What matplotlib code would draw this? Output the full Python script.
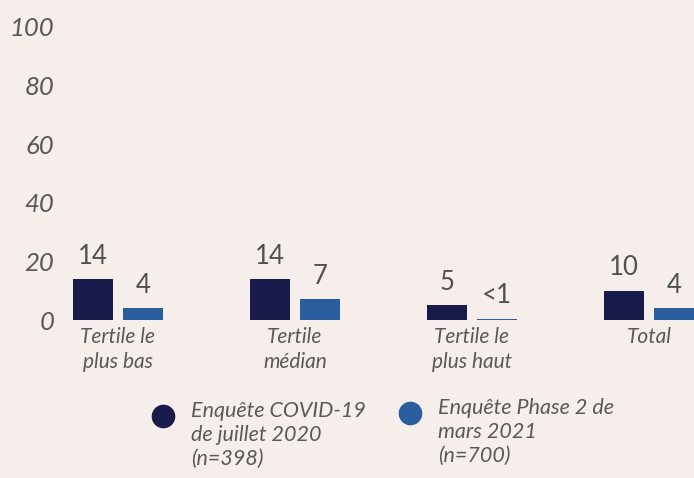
import matplotlib
matplotlib.use("Agg")
from matplotlib import pyplot as plt
from matplotlib.lines import Line2D
import numpy as np

# données
categories = ["Tertile le\nplus bas", "Tertile\nmédian", "Tertile le\nplus haut", "Total"]
covid_2020 = [14, 14, 5, 10]
phase2_2021 = [4, 7, 0.4, 4]
labels_2020 = ["14", "14", "5", "10"]
labels_2021 = ["4", "7", "<1", "4"]
series_names = ["Enquête COVID-19\nde juillet 2020\n(n=398)",
                "Enquête Phase 2 de\nmars 2021\n(n=700)"]
y_ticks = [0, 20, 40, 60, 80, 100]

BG = "#f5eeeb"
DARK = "#191c4b"
BLUE = "#2a5e9e"
GREY = "#595959"

plt.rcParams["font.family"] = ["Lato", "DejaVu Sans"]

W, H = 694, 478
fig = plt.figure(figsize=(W / 100, H / 100), dpi=100, facecolor=BG)


def fx(px):
    return px / W


def fy(py):
    return 1 - py / H


ax = fig.add_axes([fx(60), fy(320), fx(634), 293 / H])
ax.set_facecolor(BG)

x = np.arange(len(categories))
width = 0.226
off = 0.141

b1 = ax.bar(x - off, covid_2020, width, color=DARK, clip_on=False)
b2 = ax.bar(x + off, phase2_2021, width, color=BLUE, clip_on=False)

for bars, labs in ((b1, labels_2020), (b2, labels_2021)):
    for r, lab in zip(bars, labs):
        ax.annotate(lab, (r.get_x() + r.get_width() / 2, r.get_height()),
                    xytext=(0, 7.5), textcoords="offset points",
                    ha="center", va="bottom", fontsize=18.5, color="#505050",
                    annotation_clip=False)

ax.set_xlim((60 - 118) / 177, (694 - 118) / 177)
ax.set_ylim(0, 100)
ax.set_yticks(y_ticks)
ax.set_yticklabels([str(v) for v in y_ticks], fontsize=18.5, style="italic",
                   color=GREY)
ax.set_xticks(x)
ax.set_xticklabels(categories, fontsize=15, style="italic", color=GREY,
                   linespacing=1.3)
ax.tick_params(axis="both", length=0)
ax.tick_params(axis="y", pad=4)
ax.tick_params(axis="x", pad=5)
for s in ax.spines.values():
    s.set_visible(False)

# légende
for (mx, my, tx), col, name in zip(((163, 416, 191), (410, 413, 438)),
                                   (DARK, BLUE), series_names):
    fig.add_artist(Line2D([fx(mx)], [fy(my)], marker="o", markersize=16,
                          color=col, transform=fig.transFigure))
    fig.text(fx(tx), fy(my - 15), name, fontsize=15.5, style="italic",
             color=GREY, ha="left", va="top", linespacing=1.25)

fig.savefig("out.png", dpi=100, facecolor=BG)
